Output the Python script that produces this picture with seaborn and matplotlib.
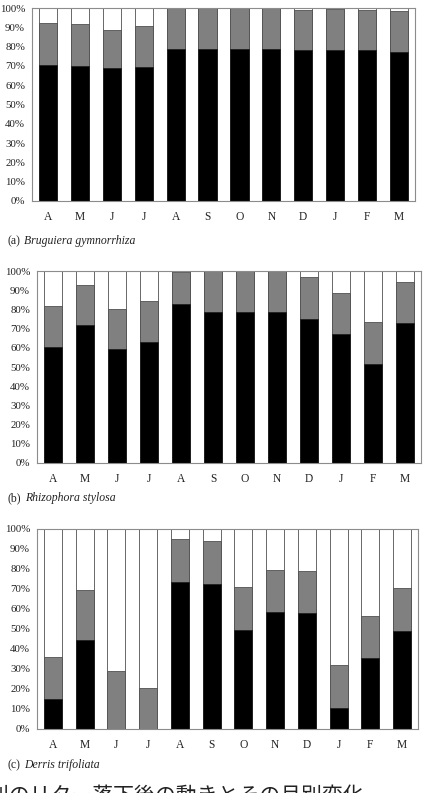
import pandas as pd
import matplotlib
matplotlib.use("Agg")
import matplotlib.pyplot as plt
import seaborn as sns

# month labels (April -> March)
months = ["A", "M", "J", "J", "A", "S", "O", "N", "D", "J", "F", "M"]

# (a) Bruguiera gymnorrhiza, % per segment
black_a = [70.6, 70.1, 69.0, 69.4, 78.7, 78.7, 78.7, 78.7, 78.0, 78.2, 78.0, 77.3]
gray_a = [21.4, 21.4, 19.8, 21.4, 21.3, 21.3, 21.3, 21.3, 21.0, 21.3, 21.0, 21.3]

# (b) Rhizophora stylosa
black_b = [60.6, 71.8, 59.3, 63.0, 83.0, 78.9, 78.9, 78.9, 75.1, 67.3, 51.7, 73.0]
gray_b = [21.4, 21.1, 21.1, 21.4, 16.6, 21.1, 21.1, 21.1, 21.6, 21.4, 21.5, 21.5]

# (c) Derris trifoliata
black_c = [14.8, 44.3, 0.0, 0.0, 73.7, 72.3, 49.5, 58.3, 58.0, 10.5, 35.3, 49.0]
gray_c = [21.4, 25.0, 28.8, 20.3, 21.1, 21.5, 21.3, 21.4, 21.2, 21.5, 21.4, 21.5]

labels = ["(a)", "(b)", "(c)"]
species = ["Bruguiera gymnorrhiza", "Rhizophora stylosa", "Derris trifoliata"]
footer = "種別のリター落下後の動きとその月別変化"

sns.set_style("white")
plt.rcParams["font.family"] = ["Liberation Serif", "DejaVu Serif"]

W, H = 424, 793
fig = plt.figure(figsize=(W / 100, H / 100), dpi=100)

# axes boxes in pixels: left, top, right, bottom
boxes = [(32, 8, 415, 201), (37, 271, 421, 463), (37, 529, 418, 729)]
caption_y = [244, 501, 768]
spine_col = "#8c8c8c"
edge_col = "#505050"

renderer = fig.canvas.get_renderer()

for i, (black, gray) in enumerate([(black_a, gray_a), (black_b, gray_b), (black_c, gray_c)]):
    l, t, r, b = boxes[i]
    ax = fig.add_axes([l / W, 1 - b / H, (r - l) / W, (b - t) / H])
    df = pd.DataFrame({"idx": range(12), "black": black, "gray": gray})
    df["gray_top"] = df["black"] + df["gray"]
    df["total"] = 100.0

    sns.barplot(data=df, x="idx", y="total", color="white", width=0.57,
                edgecolor=edge_col, linewidth=0.6, saturation=1, ax=ax)
    sns.barplot(data=df, x="idx", y="gray_top", color="#808080", width=0.57,
                edgecolor=edge_col, linewidth=0.6, saturation=1, ax=ax)
    sns.barplot(data=df, x="idx", y="black", color="black", width=0.57,
                edgecolor="#202020", linewidth=0.6, saturation=1, ax=ax)

    ax.set_ylim(0, 100)
    ax.set_xlim(-0.5, 11.5)
    ax.set_yticks(range(0, 101, 10))
    ax.set_yticklabels([f"{v}%" for v in range(0, 101, 10)], fontsize=7.8, color="#222222")
    ax.set_xticks(range(12))
    ax.set_xticklabels(months, fontsize=8.3, color="#222222")
    ax.set_xlabel("")
    ax.set_ylabel("")
    ax.tick_params(axis="y", length=3, width=0.6, color=spine_col, pad=2)
    ax.tick_params(axis="x", length=0, pad=7)
    for s in ax.spines.values():
        s.set_visible(True)
        s.set_color(spine_col)
        s.set_linewidth(0.8)

    # caption: "(x)" upright, species name in italics, on one baseline
    y = 1 - caption_y[i] / H
    cap = fig.text(7 / W, y, labels[i], fontsize=8.5, va="baseline", ha="left",
                   color="#222222")
    w = cap.get_window_extent(renderer).width
    fig.text((7 + w + 4.5) / W, y, species[i], fontsize=8.5, va="baseline",
             ha="left", style="italic", color="#222222")

# Japanese caption, cut off at the bottom edge as in the source
fig.text(-33 / W, 1 - 785 / H, footer, fontsize=15, va="top", ha="left",
         family=["Noto Sans CJK JP", "DejaVu Sans"], color="#222222")

fig.savefig("out.png", dpi=100)
